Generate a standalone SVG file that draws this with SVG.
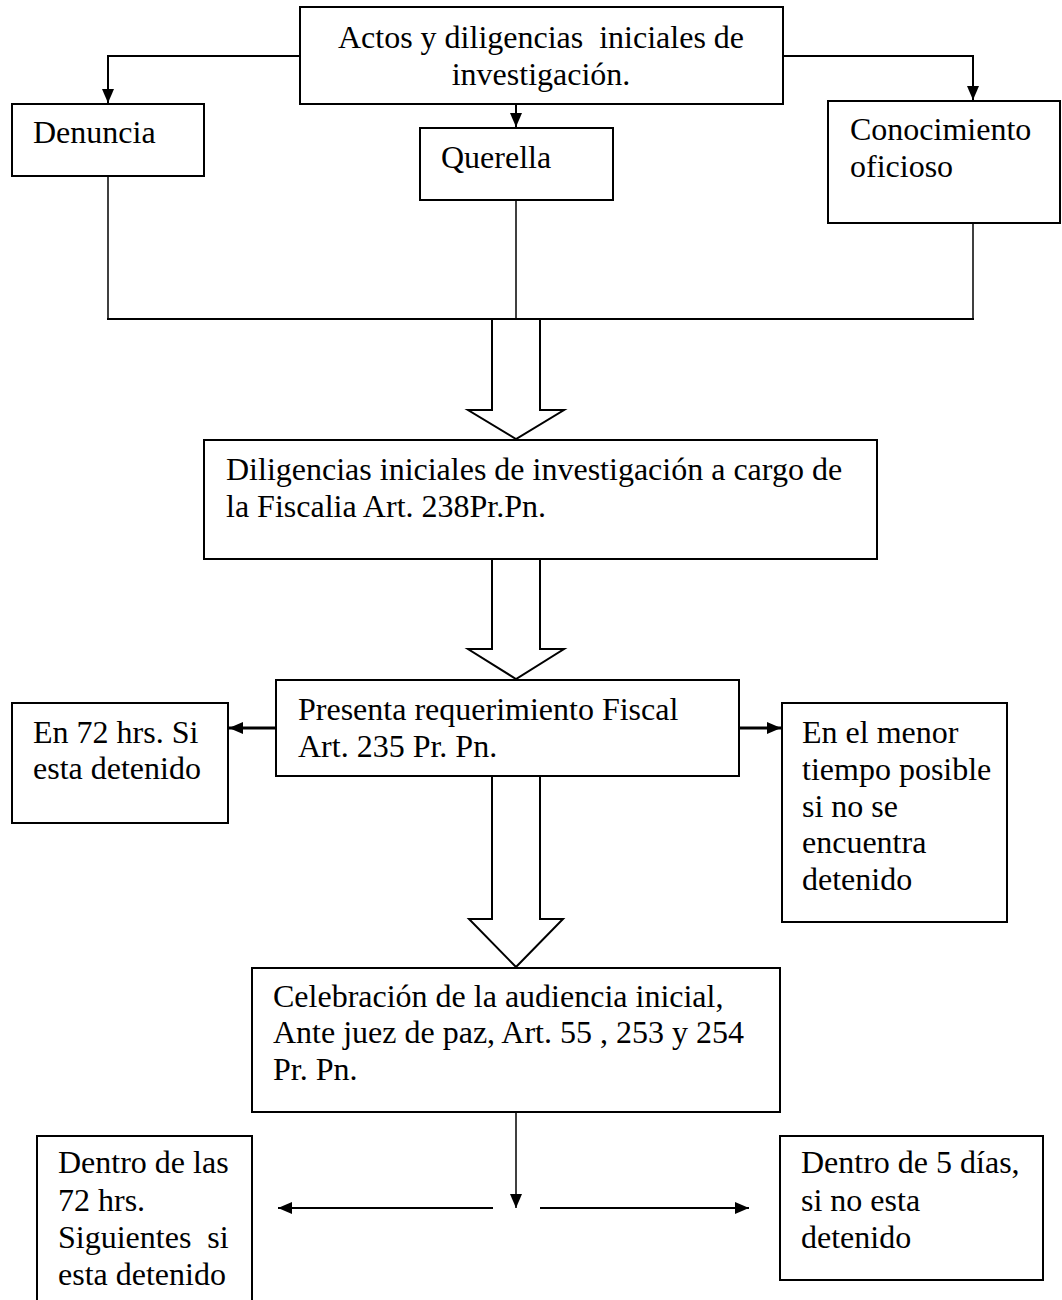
<svg xmlns="http://www.w3.org/2000/svg" width="1062" height="1300" viewBox="0 0 1062 1300">
<defs>
<style>
.box{fill:#fff;stroke:#000;stroke-width:2}
.t{font-family:"Liberation Serif","Times New Roman",serif;font-size:32px;fill:#000;white-space:pre}
.c{fill:none;stroke:#000;stroke-width:2}
.thin{fill:none;stroke:#000;stroke-width:1.5}
.thick{fill:none;stroke:#000;stroke-width:3}
.blk{fill:#fff;stroke:#000;stroke-width:2;stroke-linejoin:miter}
</style>
<marker id="ah" viewBox="0 0 14 12" refX="14" refY="6" markerWidth="14" markerHeight="12" orient="auto" markerUnits="userSpaceOnUse">
<path d="M0,0 L14,6 L0,12 z" fill="#000"/>
</marker>
</defs>
<rect width="1062" height="1300" fill="#fff"/>

<g id="connectors">
<polyline class="c" points="300,56 108,56 108,103" marker-end="url(#ah)"/>
<polyline class="c" points="783,56 973,56 973,100" marker-end="url(#ah)"/>
<line class="c" x1="516" y1="104" x2="516" y2="127" marker-end="url(#ah)"/>
<line class="thin" x1="108" y1="176" x2="108" y2="319"/>
<line class="thin" x1="516" y1="200" x2="516" y2="319"/>
<line class="thin" x1="973" y1="223" x2="973" y2="319"/>
<line class="c" x1="107" y1="319" x2="974" y2="319"/>
<polygon class="blk" points="492,319 540,319 540,410 564,410 516,439 468,410 492,410"/>
<polygon class="blk" points="492,559 540,559 540,649 564,649 516,679 468,649 492,649"/>
<polygon class="blk" points="492,776 540,776 540,919 563,919 516,967 469,919 492,919"/>
<line class="thick" x1="276" y1="728" x2="229" y2="728" marker-end="url(#ah)"/>
<line class="thick" x1="739" y1="728" x2="781" y2="728" marker-end="url(#ah)"/>
<line class="thin" x1="516" y1="1112" x2="516" y2="1208" marker-end="url(#ah)"/>
<line class="c" x1="493" y1="1208" x2="278" y2="1208" marker-end="url(#ah)"/>
<line class="c" x1="540" y1="1208" x2="749" y2="1208" marker-end="url(#ah)"/>
</g>

<g id="n-actos">
<rect class="box" x="300" y="7" width="483" height="97"/>
<text class="t" x="541" y="48" text-anchor="middle">Actos y diligencias  iniciales de</text>
<text class="t" x="541" y="85" text-anchor="middle">investigación.</text>
</g>

<g id="n-denuncia">
<rect class="box" x="12" y="104" width="192" height="72"/>
<text class="t" x="33" y="143">Denuncia</text>
</g>

<g id="n-querella">
<rect class="box" x="420" y="128" width="193" height="72"/>
<text class="t" x="441" y="168">Querella</text>
</g>

<g id="n-conocimiento">
<rect class="box" x="828" y="101" width="232" height="122"/>
<text class="t" x="850" y="140">Conocimiento</text>
<text class="t" x="850" y="177">oficioso</text>
</g>

<g id="n-diligencias">
<rect class="box" x="204" y="440" width="673" height="119"/>
<text class="t" x="226" y="480">Diligencias iniciales de investigación a cargo de</text>
<text class="t" x="226" y="517">la Fiscalia Art. 238Pr.Pn.</text>
</g>

<g id="n-presenta">
<rect class="box" x="276" y="680" width="463" height="96"/>
<text class="t" x="298" y="720">Presenta requerimiento Fiscal</text>
<text class="t" x="298" y="757">Art. 235 Pr. Pn.</text>
</g>

<g id="n-en72">
<rect class="box" x="12" y="703" width="216" height="120"/>
<text class="t" x="33" y="743">En 72 hrs. Si</text>
<text class="t" x="33" y="779">esta detenido</text>
</g>

<g id="n-menor">
<rect class="box" x="782" y="703" width="225" height="219"/>
<text class="t" x="802" y="743">En el menor</text>
<text class="t" x="802" y="780">tiempo posible</text>
<text class="t" x="802" y="817">si no se</text>
<text class="t" x="802" y="853">encuentra</text>
<text class="t" x="802" y="890">detenido</text>
</g>

<g id="n-celebracion">
<rect class="box" x="252" y="968" width="528" height="144"/>
<text class="t" x="273" y="1007">Celebración de la audiencia inicial,</text>
<text class="t" x="273" y="1043">Ante juez de paz, Art. 55 , 253 y 254</text>
<text class="t" x="273" y="1080">Pr. Pn.</text>
</g>

<g id="n-dentro72">
<rect class="box" x="37" y="1136" width="215" height="180"/>
<text class="t" x="58" y="1173">Dentro de las</text>
<text class="t" x="58" y="1211">72 hrs.</text>
<text class="t" x="58" y="1248">Siguientes  si</text>
<text class="t" x="58" y="1285">esta detenido</text>
</g>

<g id="n-dentro5">
<rect class="box" x="780" y="1136" width="263" height="144"/>
<text class="t" x="801" y="1173">Dentro de 5 días,</text>
<text class="t" x="801" y="1211">si no esta</text>
<text class="t" x="801" y="1248">detenido</text>
</g>
</svg>
